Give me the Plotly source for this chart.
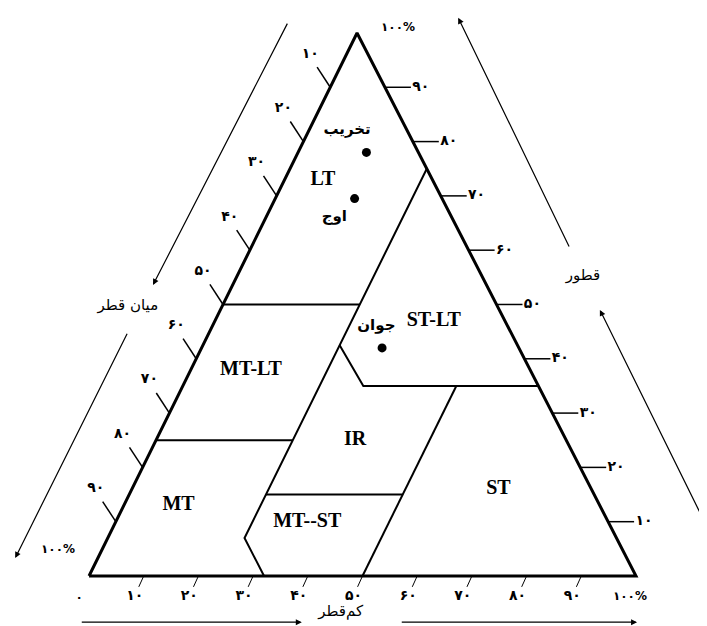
import plotly.graph_objects as go

# ternary coordinates in percent: thin (کم قطر), thick (قطور); medium = 100 - thin - thick
SKEW = 0.49  # apex sits at thin=0, thick=100 -> x = 49

edge_thin = [0, 100, 0, 0]
edge_thick = [0, 0, 100, 0]

# inner class boundaries, one polyline each
bound_thin = [
    [25, 25, 32],
    [25, 33, 65],
    [0, 25],
    [0, 25],
    [25, 50],
    [50, 50],
]
bound_thick = [
    [75, 7, 0],
    [42.5, 35, 35],
    [50, 50],
    [25, 25],
    [15, 15],
    [35, 0],
]

region_names = ["LT", "ST-LT", "MT-LT", "IR", "MT", "MT--ST", "ST"]
region_thin = [7, 40, 11, 36.4, 10, 35, 67]
region_thick = [73, 47, 38, 25, 13, 10, 16]

stage_names = ["تخریب", "اوج", "جوان"]
stage_thin = [12.5, 14.5, 33]
stage_thick = [78, 69.5, 42]
stage_label_thin = [7, 12.5, 30]
stage_label_thick = [82, 66, 46]

tick_vals = [10, 20, 30, 40, 50, 60, 70, 80, 90]

FA = str.maketrans("0123456789", "۰۱۲۳۴۵۶۷۸۹")


def fa(n):
    return str(n).translate(FA)


def to_xy(thin, thick):
    return [a + SKEW * b for a, b in zip(thin, thick)], list(thick)


fig = go.Figure()

# inner boundaries
for bt, bk in zip(bound_thin, bound_thick):
    x, y = to_xy(bt, bk)
    fig.add_trace(go.Scatter(x=x, y=y, mode="lines",
                             line=dict(color="black", width=2)))

# triangle
x, y = to_xy(edge_thin, edge_thick)
fig.add_trace(go.Scatter(x=x, y=y, mode="lines",
                         line=dict(color="black", width=3)))

# ticks: left edge = medium, right edge = thick, bottom = thin
lx, ly, rx, ry, bx, by = [], [], [], [], [], []
left_lab, right_lab, bottom_lab = [], [], []
for v in tick_vals:
    ex, ey = to_xy([0], [100 - v])
    lx += [ex[0], ex[0] - 2.4, None]
    ly += [ey[0], ey[0] + 3.7, None]
    left_lab.append((ex[0] - 3.66, ey[0] + 6.1, fa(v)))
    ex, ey = to_xy([100 - v], [v])
    rx += [ex[0], ex[0] + 4.75, None]
    ry += [ey[0], ey[0], None]
    right_lab.append((ex[0] + 5.0, ey[0], fa(v)))
    bx += [v, v - 0.9, None]
    by += [0, -2.0, None]
    bottom_lab.append((v - 1.65, -3.7, fa(v)))

fig.add_trace(go.Scatter(x=lx, y=ly, mode="lines", line=dict(color="black", width=1.5)))
fig.add_trace(go.Scatter(x=rx, y=ry, mode="lines", line=dict(color="black", width=1.5)))
fig.add_trace(go.Scatter(x=bx, y=by, mode="lines", line=dict(color="black", width=1)))

tick_font = dict(family="DejaVu Sans", size=14, color="black")
for labs, pos in [(left_lab, "middle center"), (right_lab, "middle right"),
                  (bottom_lab, "middle center")]:
    fig.add_trace(go.Scatter(
        x=[p[0] for p in labs], y=[p[1] for p in labs],
        text=["<b>" + p[2] + "</b>" for p in labs],
        mode="text", textposition=pos, textfont=tick_font))

# end labels (0 and 100%)
end_x = [56.5, -5.67, 98.9, -1.8]
end_y = [100.9, 4.8, -3.87, -4.05]
end_text = [fa(100) + "%", fa(100) + "%", fa(100) + "%", fa(0)]
fig.add_trace(go.Scatter(x=end_x, y=end_y, text=["<b>" + t + "</b>" for t in end_text],
                         mode="text",
                         textfont=dict(family="DejaVu Sans", size=12, color="black")))

# region labels
x, y = to_xy(region_thin, region_thick)
fig.add_trace(go.Scatter(
    x=x, y=y, text=["<b>" + n + "</b>" for n in region_names], mode="text",
    textfont=dict(family="Liberation Serif", size=20, color="black")))

# stand stages
x, y = to_xy(stage_thin, stage_thick)
fig.add_trace(go.Scatter(x=x, y=y, mode="markers",
                         marker=dict(color="black", size=9)))
x, y = to_xy(stage_label_thin, stage_label_thick)
fig.add_trace(go.Scatter(
    x=x, y=y, text=["<b>" + n + "</b>" for n in stage_names], mode="text",
    textfont=dict(family="DejaVu Sans", size=15, color="black")))

# axis titles
fig.add_trace(go.Scatter(
    x=[7.1, 90.3, 46], y=[49.7, 55.2, -6.6],
    text=["میان قطر", "قطور", "کم‌قطر"], mode="text",
    textfont=dict(family="DejaVu Sans", size=15, color="black")))

# direction arrows (tail -> head)
arrows = [
    (36.4, 102.0, 11.7, 53.6),
    (7.1, 44.9, -13.5, 3.3),
    (87.9, 60.4, 67.5, 102.8),
    (113.0, 9.0, 93.4, 49.0),
    (-1.6, -8.5, 38.9, -8.5),
    (56.9, -8.5, 100.2, -8.5),
]
for tx, ty, hx, hy in arrows:
    fig.add_annotation(x=hx, y=hy, ax=tx, ay=ty, xref="x", yref="y",
                       axref="x", ayref="y", text="", showarrow=True,
                       arrowhead=2, arrowsize=1, arrowwidth=1.2,
                       arrowcolor="black")

# the page adds an 8px body margin, so the figure is 8px smaller
fig.update_layout(
    width=699, height=618, autosize=False,
    margin=dict(l=0, r=0, t=0, b=0),
    paper_bgcolor="white", plot_bgcolor="white",
    showlegend=False, hovermode=False,
    xaxis=dict(range=[-14.81, 112.98], visible=False),
    yaxis=dict(range=[-9.21, 104.6], visible=False),
)

fig.write_html("out.html")
